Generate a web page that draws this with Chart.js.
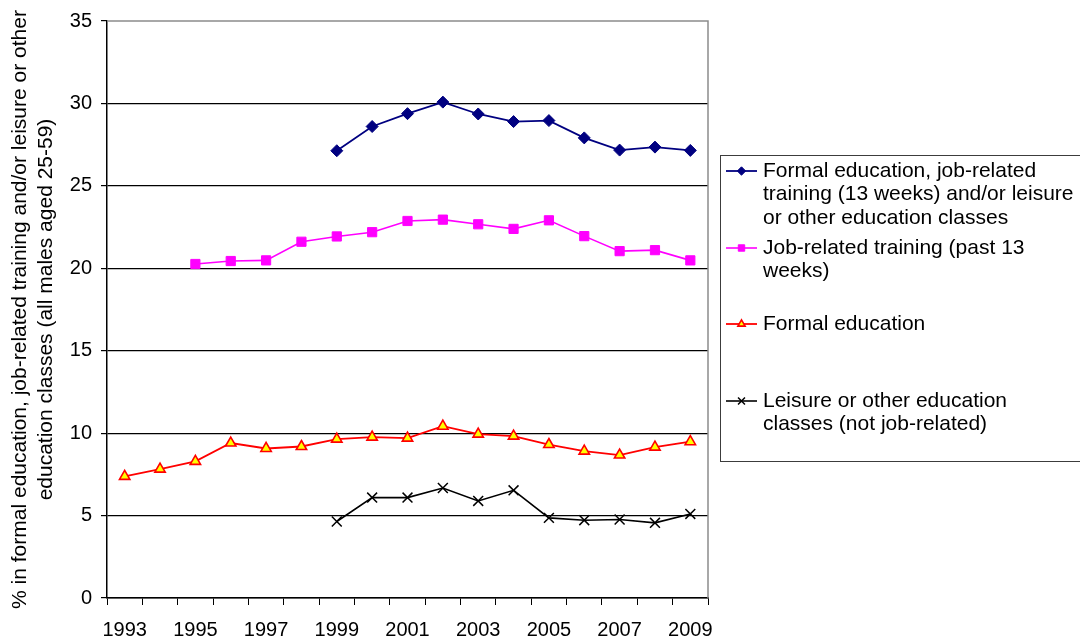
<!DOCTYPE html>
<html>
<head>
<meta charset="utf-8">
<script src="https://cdn.jsdelivr.net/npm/chart.js@4/dist/chart.umd.min.js"></script>
<style>
  html, body { margin: 0; padding: 0; background: #fff; }
  #wrap { width: 1080px; height: 642px; }
</style>
</head>
<body>
<div id="wrap"><canvas id="c" width="1080" height="642"></canvas></div>
<script>
// Survey years
const years = ['1993','1994','1995','1996','1997','1998','1999','2000','2001',
               '2002','2003','2004','2005','2006','2007','2008','2009'];

// % of males aged 25-59 in each kind of learning
const anyLearning = [null, null, null, null, null, null,
  27.13, 28.6, 29.38, 30.08, 29.36, 28.9, 28.96, 27.91, 27.17, 27.35, 27.15];
const jobTraining = [null, null,
  20.26, 20.44, 20.48, 21.61, 21.93, 22.19, 22.87, 22.95, 22.67, 22.39, 22.91, 21.95, 21.04, 21.1, 20.48];
const formalEducation = [7.38, 7.82, 8.29, 9.40, 9.07, 9.19, 9.64, 9.76, 9.70,
  10.42, 9.94, 9.82, 9.31, 8.91, 8.67, 9.15, 9.48];
const leisureClasses = [null, null, null, null, null, null,
  4.64, 6.09, 6.09, 6.67, 5.89, 6.53, 4.86, 4.72, 4.76, 4.56, 5.10];

const yTicks = [0, 5, 10, 15, 20, 25, 30, 35];

// Legend text, wrapped as in the boxed key
const legendLines = [
  ['Formal education, job-related', 'training (13 weeks) and/or leisure', 'or other education classes'],
  ['Job-related training (past 13', 'weeks)'],
  ['Formal education'],
  ['Leisure or other education', 'classes (not job-related)']
];

const yTitle = ['% in formal education, job-related training and/or leisure or other',
                'education classes (all males aged 25-59)'];

const FONT = '"Liberation Sans", Arial, sans-serif';

const datasets = [
  { label: legendLines[0].join(' '), data: anyLearning,
    borderColor: '#000080', backgroundColor: '#000080',
    pointBackgroundColor: '#000080', pointBorderColor: '#000080',
    pointStyle: 'rectRot', pointRadius: 6, pointBorderWidth: 1, borderWidth: 1.8 },
  { label: legendLines[1].join(' '), data: jobTraining,
    borderColor: '#FF00FF', backgroundColor: '#FF00FF',
    pointBackgroundColor: '#FF00FF', pointBorderColor: '#FF00FF',
    pointStyle: 'rect', pointRadius: 6.5, pointBorderWidth: 1, borderWidth: 1.6 },
  { label: legendLines[2].join(' '), data: formalEducation,
    borderColor: '#FF0000', backgroundColor: '#FFFF00',
    pointBackgroundColor: '#FFFF00', pointBorderColor: '#FF0000',
    pointStyle: 'triangle', pointRadius: 6, pointBorderWidth: 1.6, borderWidth: 1.8 },
  { label: legendLines[3].join(' '), data: leisureClasses,
    borderColor: '#000000', backgroundColor: '#000000',
    pointBackgroundColor: '#000000', pointBorderColor: '#000000',
    pointStyle: 'crossRot', pointRadius: 7, pointBorderWidth: 1.5, borderWidth: 1.6 }
];

// Grey frame on the top and right of the plot area
const plotFrame = {
  id: 'plotFrame',
  beforeDatasetsDraw(chart) {
    const { ctx, chartArea: a } = chart;
    ctx.save();
    ctx.strokeStyle = '#8c8c8c';
    ctx.lineWidth = 1.5;
    ctx.beginPath();
    ctx.moveTo(a.left, a.top);
    ctx.lineTo(a.right, a.top);
    ctx.lineTo(a.right, a.bottom);
    ctx.stroke();
    ctx.restore();
  }
};

// Boxed key with wrapped entries
const boxedLegend = {
  id: 'boxedLegend',
  afterDraw(chart) {
    const { ctx } = chart;
    const box = { x: 720.5, y: 155.5, w: 360, h: 306 };
    const firstLineY = [171, 248, 324, 401];
    const lineStep = 23.5;
    ctx.save();
    ctx.strokeStyle = '#3c3c3c';
    ctx.lineWidth = 1;
    ctx.strokeRect(box.x, box.y, box.w, box.h);
    ctx.font = '21px ' + FONT;
    ctx.fillStyle = '#000';
    ctx.textBaseline = 'middle';
    ctx.textAlign = 'left';
    chart.data.datasets.forEach((ds, i) => {
      const y = firstLineY[i];
      ctx.strokeStyle = ds.borderColor;
      ctx.lineWidth = ds.borderWidth;
      ctx.beginPath();
      ctx.moveTo(726, y);
      ctx.lineTo(757, y);
      ctx.stroke();
      ctx.fillStyle = ds.pointBackgroundColor;
      ctx.strokeStyle = ds.pointBorderColor;
      ctx.lineWidth = ds.pointBorderWidth;
      Chart.helpers.drawPoint(ctx, {
        pointStyle: ds.pointStyle, rotation: 0,
        radius: ds.pointRadius * 0.7, borderWidth: ds.pointBorderWidth
      }, 741.5, y);
      ctx.fillStyle = '#000';
      legendLines[i].forEach((t, k) => ctx.fillText(t, 763, y + k * lineStep));
    });
    ctx.restore();
  }
};

new Chart(document.getElementById('c'), {
  type: 'line',
  data: { labels: years, datasets },
  options: {
    responsive: false,
    animation: false,
    devicePixelRatio: 1,
    layout: { padding: { top: 19, right: 372, bottom: 0, left: 0 } },
    plugins: { legend: { display: false }, tooltip: { enabled: false } },
    elements: { line: { tension: 0 } },
    scales: {
      x: {
        type: 'category',
        offset: true,
        grid: { offset: true, drawOnChartArea: false, drawTicks: true, tickLength: 7, color: '#000', lineWidth: 1 },
        border: { color: '#000', width: 1.5 },
        ticks: {
          autoSkip: false, maxRotation: 0, padding: 13, color: '#000',
          font: { family: FONT, size: 20 },
          callback: (v, i) => (i % 2 === 0 ? years[i] : '')
        },
        afterFit: s => { s.height = 44; }
      },
      y: {
        min: 0, max: 35,
        afterBuildTicks: s => { s.ticks = yTicks.map(v => ({ value: v })); },
        grid: {
          color: c => (c.tick && c.tick.value === 35 ? 'rgba(0,0,0,0)' : '#000'),
          tickColor: '#000', tickLength: 6, lineWidth: 1.2
        },
        border: { color: '#000', width: 1.5 },
        ticks: { padding: 9, color: '#000', font: { family: FONT, size: 20 } },
        title: {
          display: true, text: yTitle, color: '#000',
          font: { family: FONT, size: 21, lineHeight: 1.2 },
          padding: { top: 8, bottom: 0 }
        },
        afterFit: s => { s.width = 107; }
      }
    }
  },
  plugins: [plotFrame, boxedLegend]
});
</script>
</body>
</html>
